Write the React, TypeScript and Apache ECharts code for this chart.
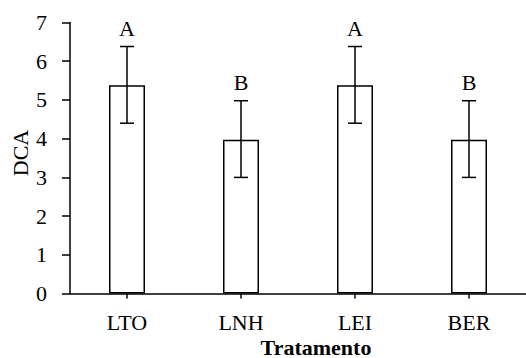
import React, { useEffect, useRef } from 'react';
import * as echarts from 'echarts';

const categories = ['LTO', 'LNH', 'LEI', 'BER'];
const means = [5.38, 3.97, 5.38, 3.97];
const errLow = [4.4, 3.0, 4.4, 3.0];
const errHigh = [6.38, 4.98, 6.38, 4.98];
const letters = ['A', 'B', 'A', 'B'];
const yMin = 0;
const yMax = 7;
const yStep = 1;
const xTitle = 'Tratamento';
const yTitle = 'DCA';

const FONT = '"Liberation Serif", "Times New Roman", serif';

export default function App() {
  const ref = useRef<HTMLDivElement>(null);
  useEffect(() => {
    if (!ref.current) return;
    const chart = echarts.init(ref.current, undefined, { renderer: 'svg' });
    chart.setOption({
      animation: false,
      backgroundColor: '#fff',
      grid: { left: 70, right: 0, top: 22.5, bottom: 64.4 },
      xAxis: {
        type: 'category',
        data: categories,
        boundaryGap: true,
        axisLine: { show: true, lineStyle: { color: '#000', width: 1.5 } },
        axisTick: { show: true, alignWithLabel: true, length: 5, lineStyle: { color: '#000', width: 1.5 } },
        axisLabel: { color: '#000', fontFamily: FONT, fontSize: 22, margin: 18 },
        splitLine: { show: false },
      },
      yAxis: {
        type: 'value',
        min: yMin,
        max: yMax,
        interval: yStep,
        axisLine: { show: true, lineStyle: { color: '#000', width: 1.5 } },
        axisTick: { show: true, length: 8, lineStyle: { color: '#000', width: 1.5 } },
        axisLabel: { color: '#000', fontFamily: FONT, fontSize: 22, margin: 23 },
        splitLine: { show: false },
      },
      graphic: [
        {
          type: 'text',
          x: 316,
          y: 347,
          style: {
            text: xTitle,
            font: `bold 22px ${FONT}`,
            fill: '#000',
            textAlign: 'center',
            textVerticalAlign: 'middle',
          },
        },
        {
          type: 'text',
          x: 20,
          y: 153,
          rotation: Math.PI / 2,
          style: {
            text: yTitle,
            font: `22px ${FONT}`,
            fill: '#000',
            textAlign: 'center',
            textVerticalAlign: 'middle',
          },
        },
      ],
      series: [
        {
          type: 'bar',
          data: means,
          barWidth: 36,
          itemStyle: { color: '#fff', borderColor: '#000', borderWidth: 1.5 },
          z: 2,
        },
        {
          type: 'custom',
          z: 5,
          data: categories.map((_, i) => [i, errLow[i], errHigh[i]]),
          encode: { x: 0, y: [1, 2] },
          renderItem: (params: any, api: any) => {
            const x = api.value(0);
            const lo = api.value(1);
            const hi = api.value(2);
            const top = api.coord([x, hi]);
            const bot = api.coord([x, lo]);
            const hw = 7;
            const st = { stroke: '#000', lineWidth: 1.5 };
            return {
              type: 'group',
              children: [
                { type: 'line', shape: { x1: top[0], y1: top[1], x2: bot[0], y2: bot[1] }, style: st },
                { type: 'line', shape: { x1: top[0] - hw, y1: top[1], x2: top[0] + hw, y2: top[1] }, style: st },
                { type: 'line', shape: { x1: bot[0] - hw, y1: bot[1], x2: bot[0] + hw, y2: bot[1] }, style: st },
                {
                  type: 'text',
                  x: top[0],
                  y: top[1] - 7,
                  style: {
                    text: letters[params.dataIndex],
                    font: `22px ${FONT}`,
                    fill: '#000',
                    textAlign: 'center',
                    textVerticalAlign: 'bottom',
                  },
                },
              ],
            };
          },
        },
      ],
    });
    return () => chart.dispose();
  }, []);
  return (
    <div
      ref={ref}
      style={{ position: 'absolute', left: 0, top: 0, width: 526, height: 358 }}
    />
  );
}
